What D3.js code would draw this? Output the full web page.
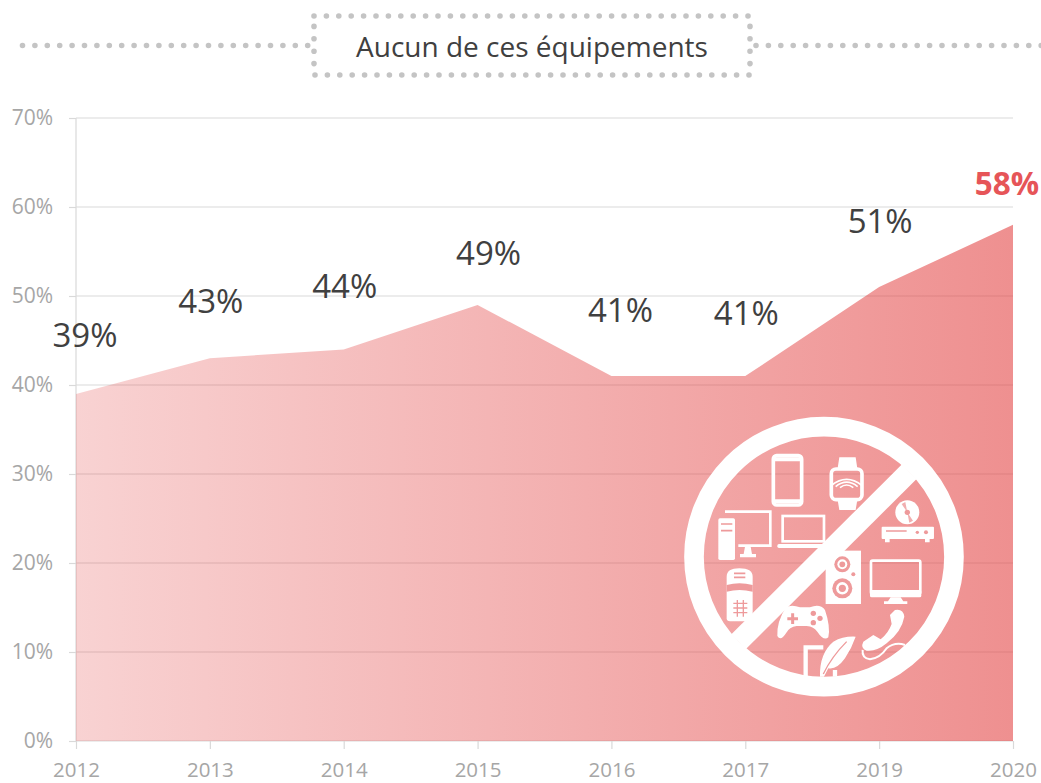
<!DOCTYPE html>
<html><head><meta charset="utf-8">
<style>html,body{margin:0;padding:0;background:#fff;overflow:hidden}svg{display:block}text{font-family:"Open Sans",sans-serif}</style>
<script src="https://cdn.jsdelivr.net/npm/d3@7"></script></head><body><script>
const years=["2012","2013","2014","2015","2016","2017","2019","2020"];
const values=[39,43,44,49,41,41,51,58];
const yTicks=[0,10,20,30,40,50,60,70];
const titleText="Aucun de ces équipements";
const labelDx=[9,1,1,11,9,1,1,-6];
const labelDy=[-59,-58,-64,-52,-67,-64,-67,-42];

const W=1041,H=783;
const svg=d3.select("body").append("svg").attr("width",W).attr("height",H);
const x=d3.scalePoint().domain(years).range([76,1013]);
const y=d3.scaleLinear().domain([0,70]).range([741,118]);

const defs=svg.append("defs");
const g=defs.append("linearGradient").attr("id","fade").attr("gradientUnits","userSpaceOnUse")
  .attr("x1",76).attr("x2",1013).attr("y1",0).attr("y2",0);
g.append("stop").attr("offset",0).attr("stop-color","#e23c3c").attr("stop-opacity",.23);
g.append("stop").attr("offset",1).attr("stop-color","#e23c3c").attr("stop-opacity",.57);

// grid and axes
const gy=svg.append("g").attr("transform","translate(76,0)")
  .call(d3.axisLeft(y).tickValues(yTicks).tickSize(7).tickFormat(d=>d+"%").tickPadding(16));
gy.selectAll("line").attr("stroke","#d9d9d9").attr("stroke-width",1.2);
gy.select(".domain").attr("stroke","#d9d9d9").attr("d","M0,118V741").attr("stroke-width",1.2);
gy.selectAll("text").attr("fill","#a6a6a6").style("font-size","21px");
svg.append("g").selectAll("line").data(yTicks.slice(1)).join("line")
  .attr("x1",76).attr("x2",1013).attr("y1",d=>y(d)).attr("y2",d=>y(d))
  .attr("stroke","#d9d9d9").attr("stroke-width",1.2);
const gx=svg.append("g").attr("transform","translate(0,741)")
  .call(d3.axisBottom(x).tickSize(8).tickPadding(13));
gx.select(".domain").attr("stroke","#d9d9d9").attr("stroke-width",1.2).attr("d","M76,0H1013");
gx.selectAll("line").attr("stroke","#d9d9d9").attr("stroke-width",1.2);
gx.selectAll("text").attr("fill","#a6a6a6").style("font-size","20.5px");

// area
const area=d3.area().x((d,i)=>x(years[i])).y0(y(0)).y1(d=>y(d));
svg.append("path").datum(values).attr("d",area).attr("fill","url(#fade)");

// value labels
svg.append("g").selectAll("text").data(values).join("text")
  .attr("x",(d,i)=>x(years[i])+labelDx[i])
  .attr("y",(d,i)=>y(d)+labelDy[i])
  .attr("text-anchor","middle").attr("dominant-baseline","central")
  .attr("fill",(d,i)=>i===values.length-1?"#e65558":"#404040")
  .attr("font-weight",(d,i)=>i===values.length-1?700:400)
  .style("font-size",(d,i)=>i===values.length-1?"31.5px":"33px")
  .text(d=>d+"%");

// title with dotted frame
const dots="#c4c4c4";
const dotted=s=>s.attr("fill","none").attr("stroke",dots).attr("stroke-width",5.6)
  .attr("stroke-linecap","round").attr("stroke-dasharray","0 12.4");
svg.append("line").attr("x1",22.5).attr("x2",312).attr("y1",45.5).attr("y2",45.5).call(dotted);
svg.append("line").attr("x1",756).attr("x2",1060).attr("y1",45.5).attr("y2",45.5).call(dotted);
svg.append("rect").attr("x",314).attr("y",16).attr("width",436).attr("height",59).call(dotted);
svg.append("text").attr("x",532).attr("y",46).attr("text-anchor","middle").attr("dominant-baseline","central")
  .attr("fill","#404040").style("font-size","28px").text(titleText);

// pictogram: forbidden devices (drawn in a 3x local space)
const ic=svg.append("g").attr("transform","translate(660,400) scale(0.3333)");
defs.append("clipPath").attr("id","ringclip").append("circle").attr("cx",492).attr("cy",470).attr("r",370);
const pink="#ee9a9b";
const sw=(el,w)=>el.attr("fill","none").attr("stroke","#fff").attr("stroke-width",w);
const wf=el=>el.attr("fill","#fff");
const icons=ic.append("g").attr("clip-path","url(#ringclip)");
// smartphone
icons.append("rect").attr("x",340).attr("y",167).attr("width",85).attr("height",148).attr("rx",10).call(sw,11);
icons.append("path").attr("d","M345,172H420V184H345ZM345,298H420V310H345Z").call(wf);
// watch
icons.append("rect").attr("x",514).attr("y",207).attr("width",92).attr("height",92).attr("rx",14).call(sw,11);
icons.append("path").attr("d","M533,205L538,172H587L592,205ZM533,300L538,330H587L592,300Z").call(wf);
[20,33,46].forEach(r=>icons.append("path").attr("d",`M${560-r},${268-r*.25}Q560,${268-r*1.05} ${560+r},${268-r*.25}`).call(sw,5));
// desktop
icons.append("path").attr("d","M195,335H331V437H235").call(sw,8);
icons.append("rect").attr("x",175).attr("y",355).attr("width",50).attr("height",125).attr("rx",5).call(wf);
icons.append("path").attr("d","M183,372H217M183,392H217").attr("stroke",pink).attr("stroke-width",5);
icons.append("path").attr("d","M255,440H272L276,462H288V472H240V462H251Z").call(wf);
// laptop
icons.append("rect").attr("x",368).attr("y",348).attr("width",124).attr("height",76).call(sw,8);
icons.append("rect").attr("x",352).attr("y",432).attr("width",145).attr("height",12).attr("rx",5).call(wf);
// disc and player
icons.append("circle").attr("cx",742).attr("cy",337).attr("r",36).call(wf);
icons.append("circle").attr("cx",742).attr("cy",337).attr("r",8).attr("fill",pink);
icons.append("path").attr("d","M742,337L725,312L736,306ZM742,337L759,362L748,368Z").attr("fill",pink).attr("opacity",.8);
icons.append("rect").attr("x",665).attr("y",380).attr("width",157).attr("height",37).attr("rx",3).call(wf);
icons.append("path").attr("d","M675,417h14v10h-14ZM795,417h14v10h-14Z").call(wf);
icons.append("path").attr("d","M678,393H740").attr("stroke",pink).attr("stroke-width",4);
icons.append("circle").attr("cx",772).attr("cy",397).attr("r",5).attr("fill",pink);
icons.append("circle").attr("cx",798).attr("cy",397).attr("r",6).attr("fill",pink);
// speaker
icons.append("rect").attr("x",497).attr("y",452).attr("width",106).attr("height",160).call(wf);
[[547,493,24],[547,565,30]].forEach(([cx,cy,r])=>{
  icons.append("circle").attr("cx",cx).attr("cy",cy).attr("r",r).attr("fill",pink);
  icons.append("circle").attr("cx",cx).attr("cy",cy).attr("r",r*.62).attr("fill","#fff");
  icons.append("circle").attr("cx",cx).attr("cy",cy).attr("r",r*.36).attr("fill",pink);
});
icons.append("circle").attr("cx",580).attr("cy",523).attr("r",6).attr("fill",pink);
// monitor
icons.append("rect").attr("x",633).attr("y",482).attr("width",148).attr("height",100).attr("rx",5).call(sw,8);
icons.append("rect").attr("x",630).attr("y",570).attr("width",154).attr("height",22).attr("rx",5).call(wf);
icons.append("path").attr("d","M692,592H722L730,604H742V612H672V604H684Z").call(wf);
// cordless phone
icons.append("path").attr("d","M200,530Q200,505 238,505Q278,505 278,530V655Q278,664 268,664H210Q200,664 200,655Z").call(wf);
icons.append("path").attr("d","M200,555Q238,545 278,555V575Q238,565 200,575Z").attr("fill",pink);
icons.append("path").attr("d","M222,520H256M222,532H256").attr("stroke",pink).attr("stroke-width",5);
icons.append("path").attr("d","M220,610H262M220,624H262M220,638H262M232,600V650M250,600V650").attr("stroke",pink).attr("stroke-width",4);
// gamepad
icons.append("path").attr("d","M378,622Q395,612 420,622H450Q480,610 495,630Q512,680 505,712Q492,725 472,695Q462,680 440,678H410Q388,680 378,700Q362,725 352,708Q350,665 378,622Z").call(wf);
icons.append("path").attr("d","M398,640V672M382,656H414").attr("stroke",pink).attr("stroke-width",9);
[[460,640],[480,655],[460,668]].forEach(([cx,cy])=>icons.append("circle").attr("cx",cx).attr("cy",cy).attr("r",8).attr("fill",pink));
// tablet and feather
icons.append("path").attr("d","M437,830V742H490M525,830V810").call(sw,13);
icons.append("path").attr("d","M480,830Q478,760 520,725Q550,708 587,710Q575,745 555,775Q530,810 505,805L492,830Z").call(wf);
icons.append("path").attr("d","M490,822Q515,770 560,725").attr("fill","none").attr("stroke",pink).attr("stroke-width",4);
// handset and cord
icons.append("path").attr("d","M705,630Q730,625 733,650Q725,695 680,730Q650,755 620,752Q600,745 610,725L640,705L662,718Q685,700 695,672L690,645Z").call(wf);
icons.append("path").attr("d","M608,750Q605,775 630,778Q660,775 680,745Q705,725 735,735").attr("fill","none").attr("stroke","#fff").attr("stroke-width",6);

// ring and slash on top
ic.append("circle").attr("cx",492).attr("cy",470).attr("r",390).attr("fill","none").attr("stroke","#fff").attr("stroke-width",59);
ic.append("line").attr("x1",748).attr("y1",215).attr("x2",236).attr("y2",725).attr("stroke","#fff").attr("stroke-width",62);
</script></body></html>
